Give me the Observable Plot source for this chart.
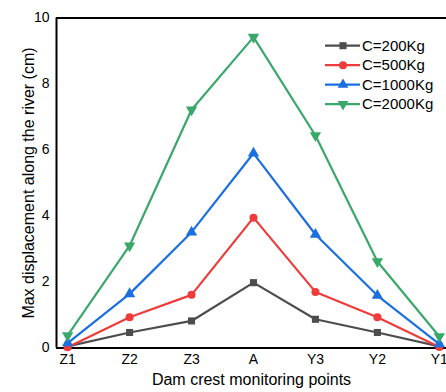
<!DOCTYPE html>
<html>
<head>
<meta charset="utf-8">
<script src="https://cdn.jsdelivr.net/npm/d3@7"></script>
<script src="https://cdn.jsdelivr.net/npm/@observablehq/plot@0.6"></script>
<style>
  html, body { margin: 0; padding: 0; background: #fff; }
  #chart { width: 446px; height: 392px; position: relative; overflow: hidden; }
  svg { font-family: "Liberation Sans", Arial, sans-serif; }
</style>
</head>
<body>
<div id="chart"></div>
<script>
const points = ["Z1", "Z2", "Z3", "A", "Y3", "Y2", "Y1"];
const seriesNames = ["C=200Kg", "C=500Kg", "C=1000Kg", "C=2000Kg"];
const c200  = [0.05, 0.47, 0.82, 1.98, 0.87, 0.47, 0.05];
const c500  = [0.02, 0.93, 1.61, 3.95, 1.70, 0.93, 0.03];
const c1000 = [0.15, 1.64, 3.51, 5.90, 3.44, 1.59, 0.12];
const c2000 = [0.38, 3.10, 7.22, 9.42, 6.44, 2.62, 0.35];
const yTicks = [0, 2, 4, 6, 8, 10];

const colors = ["#4d4d4d", "#ee3b3b", "#1c6fe0", "#39a86a"];
const symbols = ["square", "circle", "triangle", "triangle"];
const rotations = [0, 0, 0, 180];
const values = [c200, c500, c1000, c2000];

const data = [];
values.forEach((arr, s) => arr.forEach((v, i) => data.push({series: seriesNames[s], idx: i, v})));

const marks = [];
seriesNames.forEach((name, s) => {
  const d = data.filter(r => r.series === name);
  marks.push(Plot.line(d, {x: "idx", y: "v", stroke: colors[s], strokeWidth: 2.2}));
  marks.push(Plot.dot(d, {x: "idx", y: "v", fill: colors[s], stroke: "none", symbol: symbols[s], r: s >= 2 ? 4.2 : 4, rotate: rotations[s]}));
});

const plot = Plot.plot({
  width: 446,
  height: 392,
  marginTop: 17.5,
  marginBottom: 44.5,
  marginLeft: 56,
  marginRight: 0,
  style: {fontFamily: "'Liberation Sans', Arial, sans-serif", fontSize: "14px", color: "#000", background: "#fff"},
  x: {type: "linear", domain: [-0.18, 6.18], range: [56, 450]},
  y: {domain: [0, 10], range: [347.5, 17.5]},
  marks: [
    Plot.ruleY([0, 10], {stroke: "#000", strokeWidth: 2}),
    Plot.ruleX([-0.18], {stroke: "#000", strokeWidth: 2}),
    Plot.axisX({ticks: d3.range(points.length), tickFormat: i => points[i], tickSize: 0, tickPadding: 6,
      label: "Dam crest monitoring points", labelAnchor: "center", labelOffset: 37, labelArrow: false}),
    Plot.axisY({ticks: yTicks, tickSize: 0, tickPadding: 7,
      label: "Max displacement along the river (cm)", labelAnchor: "center", labelOffset: 34, labelArrow: false}),
    ...marks
  ]
});

const svg = d3.select(plot);
svg.selectAll("g[aria-label='x-axis tick label'] text, g[aria-label='y-axis tick label'] text").style("font-size", "14px");
svg.selectAll("g[aria-label='x-axis label'] text, g[aria-label='y-axis label'] text").style("font-size", "16px");

// Legend
const lg = svg.append("g").attr("font-size", 15).attr("text-anchor", "start")
  .attr("font-family", "'Liberation Sans', Arial, sans-serif");
seriesNames.forEach((name, s) => {
  const y = 45.7 + s * 19.5;
  const g = lg.append("g").attr("transform", `translate(0,${y})`);
  g.append("line").attr("x1", 325).attr("x2", 360).attr("y1", 0).attr("y2", 0).attr("stroke", colors[s]).attr("stroke-width", 2.2);
  const sym = {square: d3.symbolSquare, circle: d3.symbolCircle, triangle: d3.symbolTriangle}[symbols[s]];
  g.append("path").attr("d", d3.symbol(sym, Math.PI * 16)()).attr("fill", colors[s])
    .attr("transform", `translate(343,0) rotate(${rotations[s]})`);
  g.append("text").attr("x", 362).attr("y", 0).attr("dy", "0.35em").attr("fill", "#000")
    .style("font-size", "15px").attr("text-anchor", "start").text(name);
});

document.getElementById("chart").appendChild(plot);
</script>
</body>
</html>
